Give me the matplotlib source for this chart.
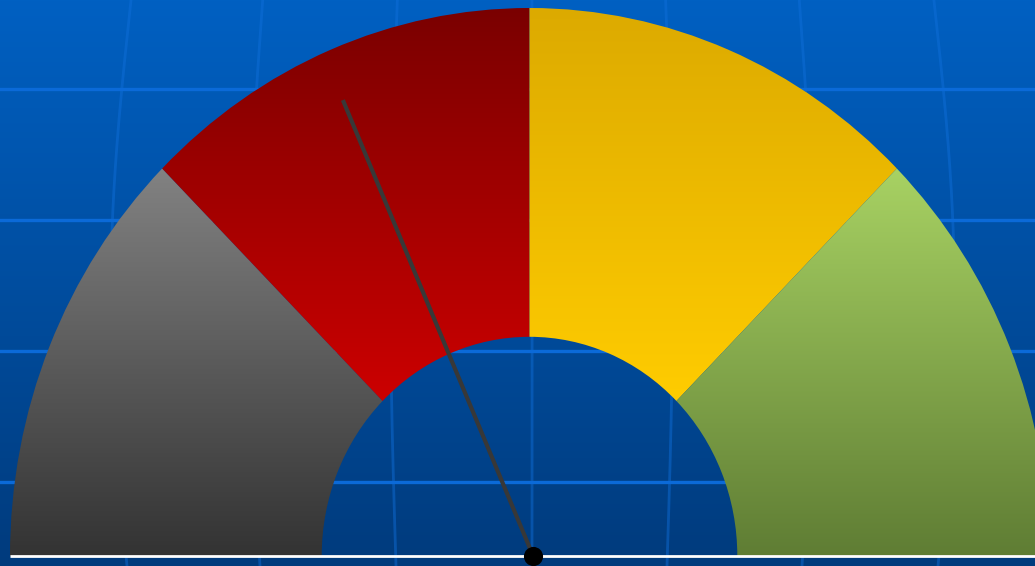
import numpy as np
import matplotlib
matplotlib.use('Agg')
import matplotlib.pyplot as plt
from matplotlib.patches import Wedge
from matplotlib.colors import LinearSegmentedColormap

# gauge data
band_edges = [0, 25, 50, 75, 100]
band_top_colors = ['#828282', '#7a0000', '#dcaa00', '#a8d263']
band_bottom_colors = ['#333333', '#cc0000', '#ffcc00', '#5f7d34']
needle_value = 36.8

# background grid (pixel positions)
grid_rows = [89, 220, 351, 482]
grid_cols = [127, 260, 396, 532, 667, 802, 938]

W, H = 1035, 566
cx_px, cy_px = 529.5, 556
rx_px, ry_px = 519.5, 548

fig = plt.figure(figsize=(W / 100, H / 100), dpi=100)

# background layer, pixel coords
bg = fig.add_axes([0, 0, 1, 1])
bg.set_xlim(0, W)
bg.set_ylim(H, 0)
bg.axis('off')
bg_cmap = LinearSegmentedColormap.from_list('bg', ['#0060c2', '#003b7d'])
bg.imshow(np.linspace(0, 1, 256).reshape(-1, 1), cmap=bg_cmap, aspect='auto',
          extent=(0, W, H, 0), zorder=0)
yy = np.linspace(0, H, 200)
for x0 in grid_cols:
    bulge = 0.045 * np.sin(np.pi * yy / H) - 0.01 * (1 - yy / H)
    xs = x0 + (x0 - cx_px) * bulge
    bg.plot(xs, yy, color='#1070dc', alpha=0.45, lw=2.0, zorder=1)
for y0 in grid_rows:
    bg.axhline(y0, color='#0b6ad8', lw=2.4, zorder=1)

# gauge layer: unit circle maps onto the ellipse
ax = fig.add_axes([0, 0, 1, 1])
ax.patch.set_alpha(0)
ax.axis('off')

inner_r = 0.4
for i in range(len(band_edges) - 1):
    t1 = 180 - band_edges[i + 1] / 100 * 180
    t2 = 180 - band_edges[i] / 100 * 180
    w = Wedge((0, 0), 1.0, t1, t2, width=1.0 - inner_r, facecolor='none',
              edgecolor='none')
    ax.add_patch(w)
    ext = w.get_path().get_extents()
    cmap = LinearSegmentedColormap.from_list('b%d' % i,
                                             [band_bottom_colors[i], band_top_colors[i]])
    im = ax.imshow(np.linspace(0, 1, 256).reshape(-1, 1), cmap=cmap, aspect='auto',
                   origin='lower', extent=(ext.x0, ext.x1, ext.y0, ext.y1), zorder=2)
    im.set_clip_path(w)

ax.set_xlim(-cx_px / rx_px, (W - cx_px) / rx_px)
ax.set_ylim(-(H - cy_px) / ry_px, cy_px / ry_px)

# baseline
ax.plot([-1.0, 2.0], [0, 0], color='white', lw=2.0, zorder=3, solid_capstyle='butt')

# needle
ang = np.radians(180 - needle_value / 100 * 180)
px = 0.007
ax.plot([px, px + 0.909 * np.cos(ang)], [0, 0.909 * np.sin(ang)],
        color='#383838', lw=3.0, zorder=4, solid_capstyle='butt')
ax.scatter([px], [0], s=190, color='black', zorder=5, linewidths=0)

fig.savefig('out.png', dpi=100)
